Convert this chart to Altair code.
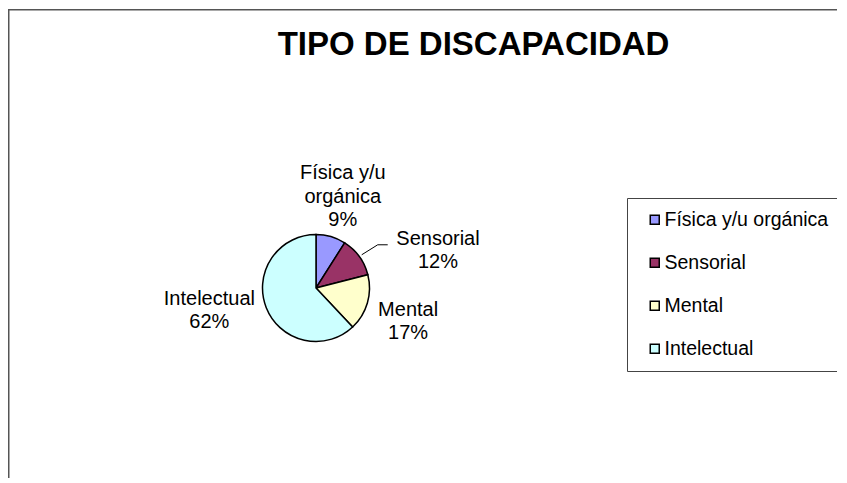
import math
import altair as alt
import pandas as pd

# ---- data ----
title_text = "TIPO DE DISCAPACIDAD"
categories = ["Física y/u orgánica", "Sensorial", "Mental", "Intelectual"]
pie_names = ["Física y/u\norgánica", "Sensorial", "Mental", "Intelectual"]
values = [9, 12, 17, 62]
colors = ["#9999FF", "#993366", "#FFFFCC", "#CCFFFF"]

# ---- layout ----
W, H = 829, 470
CX, CY, R = 308, 280, 53.5
FONT = "Liberation Sans"
FS = 20
LH = 23.5

total = sum(values)
df = pd.DataFrame({
    "cat": categories,
    "value": values,
    "label": [f"{n}\n{v}%" for n, v in zip(pie_names, values)],
})
df["end"] = df["value"].cumsum()
df["start"] = df["end"] - df["value"]
df["mid"] = (df["start"] + df["end"]) / 2

theta_scale = alt.Scale(domain=[0, total], range=[0, 2 * math.pi])

pie = alt.Chart(df).mark_arc(radius=R, stroke="black", strokeWidth=1.5).encode(
    theta=alt.Theta("start:Q", scale=theta_scale),
    theta2="end:Q",
    x=alt.value(CX),
    y=alt.value(CY),
    color=alt.Color(
        "cat:N",
        sort=categories,
        scale=alt.Scale(domain=categories, range=colors),
        legend=alt.Legend(
            title=None,
            orient="none",
            legendX=619,
            legendY=190,
            padding=12,
            symbolOffset=6,
            strokeColor="#444444",
            fillColor="white",
            cornerRadius=0,
            symbolType="square",
            symbolSize=81,
            symbolStrokeColor="black",
            symbolStrokeWidth=1.5,
            labelFont=FONT,
            labelFontSize=19.5,
            labelColor="black",
            labelOffset=0,
            labelLimit=400,
            rowPadding=22,
        ),
    ),
)

# per-label placement (radius, dx, dy) relative to the slice's mid angle
label_layout = {
    "Física y/u orgánica": (96, 0, 1),
    "Sensorial": (110, 33, 27),
    "Mental": (98, -2, 6),
    "Intelectual": (105, -9, -16),
}
label_layers = []
for cat, (rad, dx, dy) in label_layout.items():
    n_lines = df.loc[df["cat"] == cat, "label"].iloc[0].count("\n") + 1
    label_layers.append(
        alt.Chart(df)
        .transform_filter(alt.datum.cat == cat)
        .mark_text(radius=rad, dx=dx, dy=dy - (n_lines - 1) * LH / 2, font=FONT, fontSize=FS,
                   color="black", align="center", baseline="middle", lineBreak="\n",
                   lineHeight=LH)
        .encode(theta=alt.Theta("mid:Q", scale=theta_scale), x=alt.value(CX), y=alt.value(CY),
                text="label:N")
    )

# leader line for "Sensorial", computed from the slice's mid angle
srow = df[df["cat"] == "Sensorial"].iloc[0]
ang = srow["mid"] / total * 2 * math.pi
sx, sy = CX + (R + 3) * math.sin(ang), CY - (R + 3) * math.cos(ang)
leader_df = pd.DataFrame({
    "lx": [sx, sx + 16, sx + 26],
    "ly": [sy, sy - 10, sy - 10],
    "o": [0, 1, 2],
})
leader = alt.Chart(leader_df).mark_line(color="black", strokeWidth=1).encode(
    x=alt.X("lx:Q", scale=None, axis=None),
    y=alt.Y("ly:Q", scale=None, axis=None),
    order="o:Q",
)

title = alt.Chart(pd.DataFrame({"t": [title_text]})).mark_text(
    font=FONT, fontSize=33, fontWeight="bold", color="black", align="center", baseline="alphabetic"
).encode(text="t:N", x=alt.value(465.5), y=alt.value(47))

frame_df = pd.DataFrame({"k": [0]})
frame_top = alt.Chart(frame_df).mark_rule(color="#555555", strokeWidth=1.5).encode(
    x=alt.value(0), x2=alt.value(W), y=alt.value(1.75)
)
frame_left = alt.Chart(frame_df).mark_rule(color="#555555", strokeWidth=1.5).encode(
    x=alt.value(0.75), y=alt.value(1), y2=alt.value(H)
)

chart = alt.layer(frame_top, frame_left, title, pie, leader, *label_layers).properties(
    width=W, height=H, autosize=alt.AutoSizeParams(type="none"), padding=0,
    background="white",
).configure_view(stroke=None)

chart.save("out.html", embed_options={"renderer": "svg", "actions": False})
